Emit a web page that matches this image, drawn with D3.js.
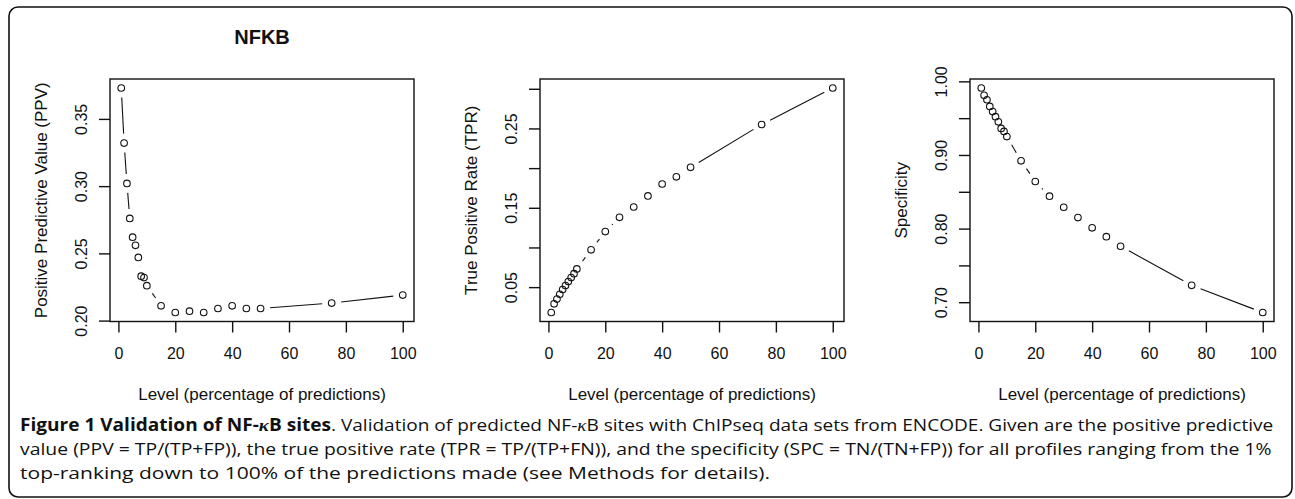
<!DOCTYPE html>
<html>
<head>
<meta charset="utf-8">
<script src="https://cdn.jsdelivr.net/npm/d3@7"></script>
<style>
  body { margin: 0; background: #fff; }
</style>
</head>
<body>
<div id="chart"></div>
<script>
// --------------------------------------
//  Data
// --------------------------------------
const levels = [1, 2, 3, 4, 5, 6, 7, 8, 9, 10, 15, 20, 25, 30, 35, 40, 45, 50, 75, 100];
const ppv = [0.373, 0.332, 0.302, 0.276, 0.262, 0.256, 0.247, 0.233, 0.232, 0.226,
             0.211, 0.206, 0.207, 0.206, 0.209, 0.211, 0.209, 0.209, 0.213, 0.219];
const tpr = [0.018, 0.029, 0.035, 0.041, 0.047, 0.052, 0.057, 0.062, 0.067, 0.073,
             0.097, 0.120, 0.138, 0.151, 0.165, 0.180, 0.189, 0.201, 0.255, 0.301];
const spc = [0.991, 0.981, 0.975, 0.966, 0.959, 0.952, 0.945, 0.936, 0.932, 0.925,
             0.892, 0.864, 0.844, 0.829, 0.815, 0.801, 0.789, 0.776, 0.723, 0.686];

const xTicks = [0, 20, 40, 60, 80, 100];
const ppvTicks = [0.20, 0.25, 0.30, 0.35];
const ppvTickLabels = ["0.20", "0.25", "0.30", "0.35"];
const tprTicks = [0.05, 0.10, 0.15, 0.20, 0.25, 0.30];
const tprTickLabels = ["0.05", "", "0.15", "", "0.25", ""];
const spcTicks = [0.70, 0.75, 0.80, 0.85, 0.90, 0.95, 1.00];
const spcTickLabels = ["0.70", "", "0.80", "", "0.90", "", "1.00"];

const panelTitles = ["NFKB", "", ""];
const yTitles = ["Positive Predictive Value (PPV)", "True Positive Rate (TPR)", "Specificity"];
const xTitle = "Level (percentage of predictions)";

// --------------------------------------
//  Canvas
// --------------------------------------
const width = 1295, height = 499;
const box = { left: 110, right: 414, top: 79, bottom: 321.5 };
const panelStep = 430;
const gap = 9.5;     // R type="b" gap around points
const chartFont = "'Liberation Sans', Arial, Helvetica, sans-serif";

const svg = d3.select("#chart")
  .append("svg")
  .attr("width", width)
  .attr("height", height)
  .attr("viewBox", [0, 0, width, height]);

svg.append("rect")
  .attr("width", width).attr("height", height)
  .attr("fill", "#fff");

// outer frame
svg.append("rect")
  .attr("x", 9).attr("y", 7)
  .attr("width", 1283).attr("height", 490)
  .attr("rx", 9).attr("ry", 9)
  .attr("fill", "none")
  .attr("stroke", "#111")
  .attr("stroke-width", 1.6);

// R-style 4% range extension
const extend = vals => {
  const [a, b] = d3.extent(vals);
  const p = (b - a) * 0.04;
  return [a - p, b + p];
};

const panels = [
  { values: ppv, ticks: ppvTicks, tickLabels: ppvTickLabels },
  { values: tpr, ticks: tprTicks, tickLabels: tprTickLabels },
  { values: spc, ticks: spcTicks, tickLabels: spcTickLabels }
];

panels.forEach((p, i) => {
  const g = svg.append("g")
    .attr("transform", `translate(${i * panelStep}, 0)`);

  const x = d3.scaleLinear()
    .domain(extend(levels))
    .range([box.left, box.right]);

  const y = d3.scaleLinear()
    .domain(extend(p.values))
    .range([box.bottom, box.top]);

  // x axis
  const xAxis = g.append("g")
    .attr("transform", `translate(0, ${box.bottom})`)
    .call(d3.axisBottom(x).tickValues(xTicks).tickSize(11).tickPadding(14));
  xAxis.select(".domain").remove();
  xAxis.selectAll("line").attr("stroke", "#111").attr("stroke-width", 1.4);
  xAxis.selectAll("text")
    .attr("fill", "#111")
    .attr("font-family", chartFont)
    .attr("font-size", 16)
    .attr("dy", null)
    .attr("y", 37.5);

  // y axis
  const yAxis = g.append("g")
    .attr("transform", `translate(${box.left}, 0)`)
    .call(d3.axisLeft(y).tickValues(p.ticks).tickSize(11)
      .tickFormat((d, k) => p.tickLabels[k]));
  yAxis.select(".domain").remove();
  yAxis.selectAll("line").attr("stroke", "#111").attr("stroke-width", 1.4);
  yAxis.selectAll("text")
    .attr("fill", "#111")
    .attr("font-family", chartFont)
    .attr("font-size", 16)
    .attr("x", null).attr("dy", null)
    .attr("text-anchor", "middle")
    .attr("transform", "translate(-22.7, 0) rotate(-90)");

  // box
  g.append("rect")
    .attr("x", box.left).attr("y", box.top)
    .attr("width", box.right - box.left)
    .attr("height", box.bottom - box.top)
    .attr("fill", "none")
    .attr("stroke", "#111")
    .attr("stroke-width", 1.4);

  // type="b": segments with gaps at the points
  const pts = levels.map((l, k) => [x(l), y(p.values[k])]);
  const segs = [];
  for (let k = 0; k < pts.length - 1; k++) {
    const [x0, y0] = pts[k], [x1, y1] = pts[k + 1];
    const d = Math.hypot(x1 - x0, y1 - y0);
    if (d > 2 * gap) {
      const ux = (x1 - x0) / d, uy = (y1 - y0) / d;
      segs.push([x0 + ux * gap, y0 + uy * gap, x1 - ux * gap, y1 - uy * gap]);
    }
  }
  g.selectAll(".seg")
    .data(segs)
    .join("line")
      .attr("class", "seg")
      .attr("x1", d => d[0]).attr("y1", d => d[1])
      .attr("x2", d => d[2]).attr("y2", d => d[3])
      .attr("stroke", "#111")
      .attr("stroke-width", 1.1);

  g.selectAll(".pt")
    .data(levels)
    .join("circle")
      .attr("class", "pt")
      .attr("cx", d => x(d))
      .attr("cy", (d, k) => y(p.values[k]))
      .attr("r", 3.3)
      .attr("fill", "none")
      .attr("stroke", "#111")
      .attr("stroke-width", 1.1);

  // titles
  const cx = (box.left + box.right) / 2;
  g.append("text")
    .attr("x", cx).attr("y", 400.3)
    .attr("text-anchor", "middle")
    .attr("font-family", chartFont)
    .attr("font-size", 17)
    .attr("fill", "#111")
    .text(xTitle);

  g.append("text")
    .attr("transform", `translate(47, ${(box.top + box.bottom) / 2}) rotate(-90)`)
    .attr("text-anchor", "middle")
    .attr("font-family", chartFont)
    .attr("font-size", 17)
    .attr("fill", "#111")
    .text(yTitles[i]);

  if (panelTitles[i]) {
    g.append("text")
      .attr("x", cx).attr("y", 44.3)
      .attr("text-anchor", "middle")
      .attr("font-family", chartFont)
      .attr("font-size", 20)
      .attr("font-weight", "bold")
      .attr("fill", "#111")
      .text(panelTitles[i]);
  }
});

// --------------------------------------
//  Caption (justified)
// --------------------------------------
const captionLines = [
  [["Figure 1 Validation of NF-", "b"], ["κ", "bi"], ["B sites", "b"],
   [". Validation of predicted NF-", ""], ["κ", "i"],
   ["B sites with ChIPseq data sets from ENCODE. Given are the positive predictive", ""]],
  [["value (PPV = TP/(TP+FP)), the true positive rate (TPR = TP/(TP+FN)), and the specificity (SPC = TN/(TN+FP)) for all profiles ranging from the 1%", ""]],
  [["top-ranking down to 100% of the predictions made (see Methods for details).", ""]]
];
const capLeft = 20;
const capRights = [1274, 1273, 770];
const capBaselines = [430.7, 455, 479.3];

captionLines.forEach((parts, i) => {
  const t = svg.append("text")
    .attr("font-family", "'Open Sans', sans-serif")
    .attr("font-size", 17)
    .attr("fill", "#111");
  parts.forEach(([s, style]) => {
    const ts = t.append("tspan").text(s);
    if (style.includes("b")) ts.attr("font-weight", "bold");
    if (style.includes("i")) ts.attr("font-style", "italic")
      .attr("font-family", "'Liberation Serif', serif");
  });
  // squeeze each line horizontally to the reference width
  const w = t.node().getComputedTextLength();
  const k = (capRights[i] - capLeft) / w;
  t.attr("transform", `translate(${capLeft}, ${capBaselines[i]}) scale(${k}, 1)`);
});
</script>
</body>
</html>
